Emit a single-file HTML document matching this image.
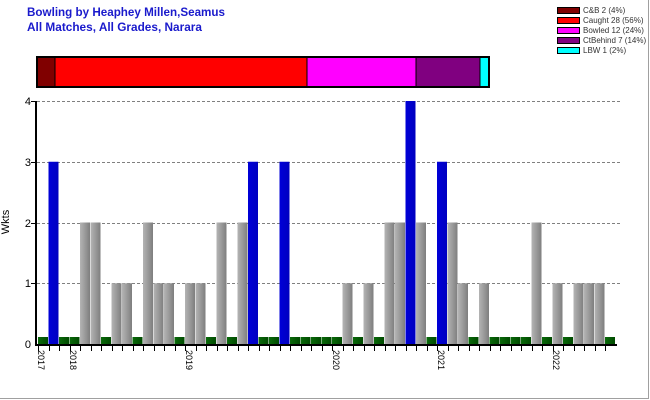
<!DOCTYPE html>
<html><head><meta charset="utf-8"><style>
html,body{margin:0;padding:0;background:#fff;}
svg{display:block;font-family:"Liberation Sans",Arial,sans-serif;}
</style></head><body>
<svg id="s" width="650" height="400" viewBox="0 0 650 400" xmlns="http://www.w3.org/2000/svg">
<defs>
<linearGradient id="gg" x1="0" x2="1" y1="0" y2="0">
<stop offset="0" stop-color="#b4b4b4"/><stop offset="0.5" stop-color="#9a9a9a"/><stop offset="1" stop-color="#7e7e7e"/></linearGradient>
<linearGradient id="gb" x1="0" x2="1" y1="0" y2="0">
<stop offset="0" stop-color="#0000d8"/><stop offset="1" stop-color="#0000c0"/></linearGradient>
<linearGradient id="gn" x1="0" x2="1" y1="0" y2="0">
<stop offset="0" stop-color="#0a6a0a"/><stop offset="1" stop-color="#004a00"/></linearGradient>
</defs>
<rect x="0" y="0" width="650" height="400" fill="#fff"/>
<line x1="648.5" y1="0" x2="648.5" y2="399" stroke="#a0a0a0" stroke-width="1"/>
<line x1="0" y1="398.5" x2="649" y2="398.5" stroke="#a0a0a0" stroke-width="1"/>
<text x="27" y="16" font-size="12" font-weight="bold" fill="#1a1acc" textLength="198" lengthAdjust="spacingAndGlyphs">Bowling by Heaphey Millen,Seamus</text>
<text x="27" y="31" font-size="12" font-weight="bold" fill="#1a1acc" textLength="175" lengthAdjust="spacingAndGlyphs">All Matches, All Grades, Narara</text>
<g font-size="8" fill="#333">
<rect x="557.5" y="7.5" width="22" height="6" fill="#800000" stroke="#000"/><text x="583" y="13">C&amp;B 2 (4%)</text>
<rect x="557.5" y="17.5" width="22" height="6" fill="#ff0000" stroke="#000"/><text x="583" y="23">Caught 28 (56%)</text>
<rect x="557.5" y="27.5" width="22" height="6" fill="#ff00ff" stroke="#000"/><text x="583" y="33">Bowled 12 (24%)</text>
<rect x="557.5" y="37.5" width="22" height="6" fill="#800080" stroke="#000"/><text x="583" y="43">CtBehind 7 (14%)</text>
<rect x="557.5" y="47.5" width="22" height="6" fill="#00ffff" stroke="#000"/><text x="583" y="53">LBW 1 (2%)</text>
</g>
<g stroke="#000" stroke-width="1">
<rect x="37" y="57" width="18" height="30" fill="#800000"/>
<rect x="55" y="57" width="252" height="30" fill="#ff0000"/>
<rect x="307" y="57" width="109" height="30" fill="#ff00ff"/>
<rect x="416" y="57" width="64" height="30" fill="#800080"/>
<rect x="480" y="57" width="9" height="30" fill="#00ffff"/>
</g>
<rect x="37" y="57" width="452" height="30" fill="none" stroke="#000" stroke-width="2"/>
<g stroke="#808080" stroke-dasharray="3,2" stroke-width="1">
<line x1="37" y1="101.5" x2="620" y2="101.5"/>
<line x1="37" y1="162.5" x2="620" y2="162.5"/>
<line x1="37" y1="223.5" x2="620" y2="223.5"/>
<line x1="37" y1="283.5" x2="620" y2="283.5"/>
</g>
<g id="bars"></g>
<line x1="36" y1="101" x2="36" y2="346" stroke="#000" stroke-width="2"/>
<line x1="35" y1="345" x2="617" y2="345" stroke="#000" stroke-width="2"/>
<g id="ticks" stroke="#000" stroke-width="1"></g>
<g font-size="11" fill="#000" text-anchor="end">
<text x="31" y="105">4</text><text x="31" y="166">3</text><text x="31" y="227">2</text><text x="31" y="287">1</text><text x="31" y="348">0</text>
</g>
<g stroke="#000"><line x1="31" y1="101.5" x2="36" y2="101.5"/><line x1="31" y1="162.5" x2="36" y2="162.5"/><line x1="31" y1="223.5" x2="36" y2="223.5"/><line x1="31" y1="283.5" x2="36" y2="283.5"/></g>
<text transform="translate(9,222) rotate(-90)" font-size="11" text-anchor="middle">Wkts</text>
<g font-size="9" fill="#000">
<text transform="translate(38,350) rotate(90)">2017</text>
<text transform="translate(70,350) rotate(90)">2018</text>
<text transform="translate(186,350) rotate(90)">2019</text>
<text transform="translate(333,350) rotate(90)">2020</text>
<text transform="translate(438,350) rotate(90)">2021</text>
<text transform="translate(553,350) rotate(90)">2022</text>
</g>
</svg>
<script>
(function(){
var v="G B3 G G g2 g2 G g1 g1 G g2 g1 g1 G g1 g1 G g2 G g2 B3 G G B3 G G G G G g1 G g1 G g2 g2 B4 g2 G B3 g2 g1 G g1 G G G G g2 G g1 G g1 g1 g1 G".split(" ");
var ns="http://www.w3.org/2000/svg",b=document.getElementById("bars"),t=document.getElementById("ticks");
function r(x,y,w,h,f){var e=document.createElementNS(ns,"rect");e.setAttribute("x",x);e.setAttribute("y",y);e.setAttribute("width",w);e.setAttribute("height",h);e.setAttribute("fill",f);b.appendChild(e);}
for(var i=0;i<v.length;i++){var x=38+10.5*i,k=v[i];
 if(k=="G"){r(x,337,10,7,"url(#gn)");}
 else{var n=+k.slice(1),yt=344-60.75*n;r(x,yt,10,344-yt,k[0]=="B"?"url(#gb)":"url(#gg)");}
 var l=document.createElementNS(ns,"line");l.setAttribute("x1",Math.round(x)+0.5);l.setAttribute("x2",Math.round(x)+0.5);l.setAttribute("y1",346);l.setAttribute("y2",351);t.appendChild(l);}
})();
</script>
</body></html>
